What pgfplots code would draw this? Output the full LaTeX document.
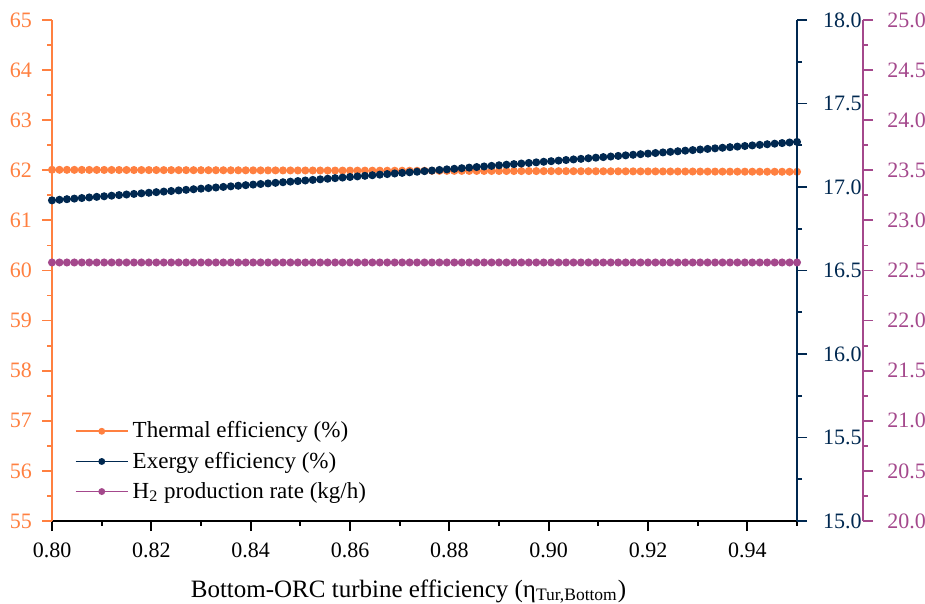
\documentclass[border=0pt]{standalone}
\usepackage{fontspec}
\setmainfont{Liberation Serif}
\newfontfamily\tickfont{Liberation Serif}
\usepackage{pgfplots}
\usepackage{pgfplotstable}
\pgfplotsset{compat=1.18}

\definecolor{cTh}{RGB}{255,128,64}
\definecolor{cEx}{RGB}{0,40,80}
\definecolor{cH}{RGB}{164,72,140}

% x, thermal eff. (%), exergy eff. (%), H2 rate (kg/h)
\pgfplotstableread{
x th ex h2
0.8000 62.0100 16.9200 22.58
0.8015 62.0096 16.9235 22.58
0.8030 62.0092 16.9270 22.58
0.8045 62.0088 16.9305 22.58
0.8060 62.0084 16.9340 22.58
0.8075 62.0080 16.9375 22.58
0.8090 62.0076 16.9410 22.58
0.8105 62.0072 16.9445 22.58
0.8120 62.0068 16.9480 22.58
0.8135 62.0064 16.9515 22.58
0.8150 62.0060 16.9550 22.58
0.8165 62.0056 16.9585 22.58
0.8180 62.0052 16.9620 22.58
0.8195 62.0048 16.9655 22.58
0.8210 62.0044 16.9690 22.58
0.8225 62.0040 16.9725 22.58
0.8240 62.0036 16.9760 22.58
0.8255 62.0032 16.9795 22.58
0.8270 62.0028 16.9830 22.58
0.8285 62.0024 16.9865 22.58
0.8300 62.0020 16.9900 22.58
0.8315 62.0016 16.9935 22.58
0.8330 62.0012 16.9970 22.58
0.8345 62.0008 17.0005 22.58
0.8360 62.0004 17.0040 22.58
0.8375 62.0000 17.0075 22.58
0.8390 61.9996 17.0110 22.58
0.8405 61.9992 17.0145 22.58
0.8420 61.9988 17.0180 22.58
0.8435 61.9984 17.0215 22.58
0.8450 61.9980 17.0250 22.58
0.8465 61.9976 17.0285 22.58
0.8480 61.9972 17.0320 22.58
0.8495 61.9968 17.0355 22.58
0.8510 61.9964 17.0390 22.58
0.8525 61.9960 17.0425 22.58
0.8540 61.9956 17.0460 22.58
0.8555 61.9952 17.0495 22.58
0.8570 61.9948 17.0530 22.58
0.8585 61.9944 17.0565 22.58
0.8600 61.9940 17.0600 22.58
0.8615 61.9936 17.0635 22.58
0.8630 61.9932 17.0670 22.58
0.8645 61.9928 17.0705 22.58
0.8660 61.9924 17.0740 22.58
0.8675 61.9920 17.0775 22.58
0.8690 61.9916 17.0810 22.58
0.8705 61.9912 17.0845 22.58
0.8720 61.9908 17.0880 22.58
0.8735 61.9904 17.0915 22.58
0.8750 61.9900 17.0950 22.58
0.8765 61.9896 17.0985 22.58
0.8780 61.9892 17.1020 22.58
0.8795 61.9888 17.1055 22.58
0.8810 61.9884 17.1090 22.58
0.8825 61.9880 17.1125 22.58
0.8840 61.9876 17.1160 22.58
0.8855 61.9872 17.1195 22.58
0.8870 61.9868 17.1230 22.58
0.8885 61.9864 17.1265 22.58
0.8900 61.9860 17.1300 22.58
0.8915 61.9856 17.1335 22.58
0.8930 61.9852 17.1370 22.58
0.8945 61.9848 17.1405 22.58
0.8960 61.9844 17.1440 22.58
0.8975 61.9840 17.1475 22.58
0.8990 61.9836 17.1510 22.58
0.9005 61.9832 17.1545 22.58
0.9020 61.9828 17.1580 22.58
0.9035 61.9824 17.1615 22.58
0.9050 61.9820 17.1650 22.58
0.9065 61.9816 17.1685 22.58
0.9080 61.9812 17.1720 22.58
0.9095 61.9808 17.1755 22.58
0.9110 61.9804 17.1790 22.58
0.9125 61.9800 17.1825 22.58
0.9140 61.9796 17.1860 22.58
0.9155 61.9792 17.1895 22.58
0.9170 61.9788 17.1930 22.58
0.9185 61.9784 17.1965 22.58
0.9200 61.9780 17.2000 22.58
0.9215 61.9776 17.2035 22.58
0.9230 61.9772 17.2070 22.58
0.9245 61.9768 17.2105 22.58
0.9260 61.9764 17.2140 22.58
0.9275 61.9760 17.2175 22.58
0.9290 61.9756 17.2210 22.58
0.9305 61.9752 17.2245 22.58
0.9320 61.9748 17.2280 22.58
0.9335 61.9744 17.2315 22.58
0.9350 61.9740 17.2350 22.58
0.9365 61.9736 17.2385 22.58
0.9380 61.9732 17.2420 22.58
0.9395 61.9728 17.2455 22.58
0.9410 61.9724 17.2490 22.58
0.9425 61.9720 17.2525 22.58
0.9440 61.9716 17.2560 22.58
0.9455 61.9712 17.2595 22.58
0.9470 61.9708 17.2630 22.58
0.9485 61.9704 17.2665 22.58
0.9500 61.9700 17.2700 22.58
}\data

\pgfplotsset{
  base/.style={
    scale only axis, width=372.5pt, height=250.5pt,
    xmin=0.80, xmax=0.95,
    tick align=outside,
    major tick length=5pt, minor tick length=2.5pt,
    tick label style={font=\tickfont\fontsize{11}{13}\selectfont},
    every tick/.append style={line width=0.9pt},
  },
  ser/.style={color=#1, line width=0.6pt, mark=*, mark size=1.7pt,
    mark options={solid, fill=#1, draw=#1}},
}

\begin{document}
\begin{tikzpicture}
% left axis: thermal efficiency
\begin{axis}[base, name=ax,
  ymin=55, ymax=65,
  axis x line*=bottom, axis y line*=left,
  x axis line style={-, black, line width=1pt},
  y axis line style={-, cTh, line width=1pt},
  xtick={0.80,0.82,...,0.94},
  minor xtick={0.81,0.83,...,0.95},
  xticklabel={\pgfmathprintnumber[assume math mode=true, fixed, fixed zerofill, precision=2]{\tick}},
  xticklabel style={yshift=-2.5pt},
  xtick style={black},
  ytick={55,56,...,65},
  minor ytick={55.5,56.5,...,64.5},
  yticklabel={\pgfmathprintnumber[assume math mode=true, fixed, precision=0]{\tick}},
  ytick style={cTh},
  yticklabel style={cTh, xshift=-1.5pt},
  xlabel={Bottom-ORC turbine efficiency (η\textsubscript{Tur,Bottom})},
  xlabel style={font=\fontsize{12.5}{15}\selectfont, yshift=-4pt, xshift=-8pt},
]
\addplot[ser=cTh] table[x=x, y=th] {\data};
\end{axis}
% first right axis: exergy efficiency
\begin{axis}[base,
  ymin=15, ymax=18,
  axis x line=none, axis y line*=right,
  y axis line style={-, cEx, line width=1pt},
  ytick={15,15.5,...,18},
  minor ytick={15.25,15.75,...,17.75},
  ytick style={cEx},
  yticklabel={\pgfmathprintnumber[assume math mode=true, fixed, fixed zerofill, precision=1]{\tick}},
  yticklabel style={cEx, xshift=4.5pt},
]
\addplot[ser=cEx] table[x=x, y=ex] {\data};
\end{axis}
% second right axis: H2 production rate
\begin{axis}[base,
  ymin=20, ymax=25,
  axis x line=none, axis y line*=right,
  y axis line style={-, cH, line width=1pt, xshift=33pt},
  ytick={20,20.5,...,25},
  minor ytick={20.25,20.75,...,24.75},
  every y tick/.append style={cH, xshift=33pt},
  yticklabel={\pgfmathprintnumber[assume math mode=true, fixed, fixed zerofill, precision=1]{\tick}},
  yticklabel style={cH, inner xsep=0pt, xshift=40pt},
  legend style={draw=none, fill=none, at={(0.022,0.215)}, anchor=north west,
    font=\fontsize{11.5}{13}\selectfont, row sep=1.5pt},
  legend cell align=left,
  legend image code/.code={\draw[mark repeat=2, mark phase=2, line width=0.8pt,
    mark size=1.3pt]
    plot coordinates {(0cm,0cm) (0.46cm,0cm) (0.92cm,0cm)};},
]
\addlegendimage{ser=cTh}
\addlegendentry{Thermal efficiency (\%)}
\addlegendimage{ser=cEx}
\addlegendentry{Exergy efficiency (\%)}
\addplot[ser=cH] table[x=x, y=h2] {\data};
\addlegendentry{H\textsubscript{2} production rate (kg/h)}
\end{axis}
\pgfresetboundingbox
\path[use as bounding box] (ax.south west) ++(-26pt,-41.5pt) rectangle ++(462.5pt,302pt);
\end{tikzpicture}
\end{document}
